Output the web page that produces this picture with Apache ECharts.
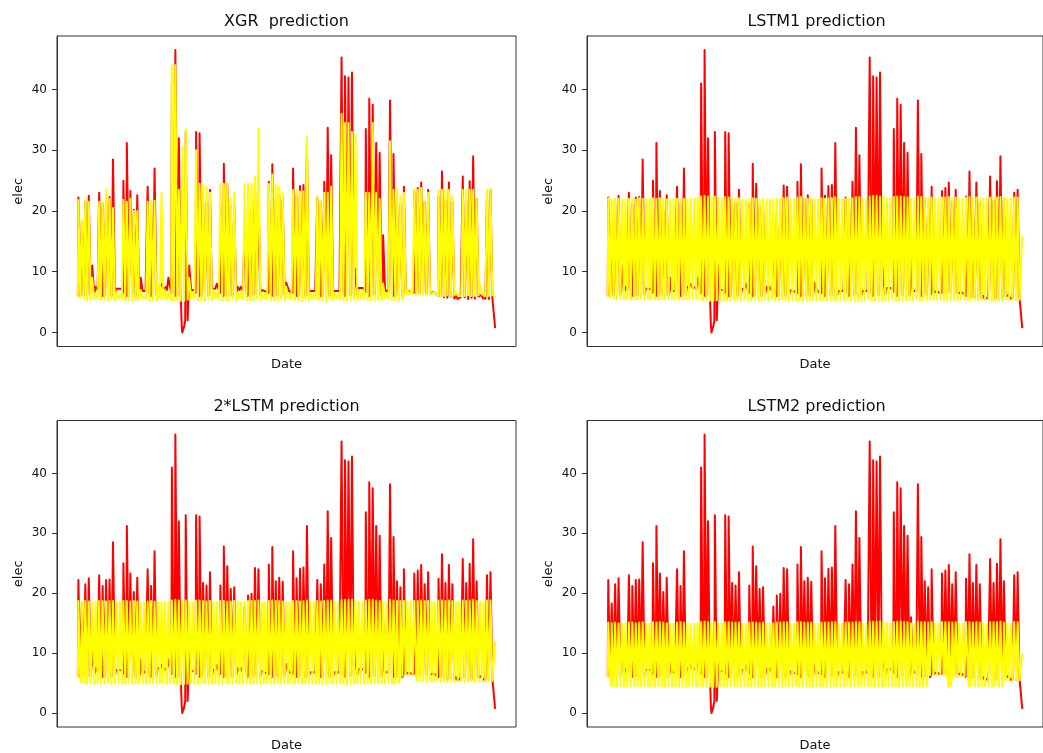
<!DOCTYPE html>
<html>
<head>
<meta charset="utf-8">
<script src="https://cdn.jsdelivr.net/npm/echarts@6/dist/echarts.min.js"></script>
<style>
html,body{margin:0;padding:0;background:#fff;overflow:hidden}
#c{width:1043px;height:753px}
</style>
</head>
<body>
<div id="c"></div>
<script>
// ---- data: one entry per day; "low" = night level, "peak" = daytime level ----
const panelTitles = ['XGR  prediction', 'LSTM1 prediction', '2*LSTM prediction', 'LSTM2 prediction'];
const yTicks = [0, 10, 20, 30, 40];

const actualLow = [
  6.0, 6.1, 6.0, 6.2, 6.5, 7.0, 6.8,
  6.0, 6.1, 6.0, 6.2, 7.2, 7.0, 6.5,
  6.0, 6.2, 6.0, 6.1, 6.8, 7.0, 6.5,
  6.0, 6.2, 7.5, 7.2, 7.0, 7.3, 6.5,
  6.0, 6.2, 1.0, 2.0, 7.0, 6.8, 6.5,
  6.0, 6.2, 6.0, 6.1, 7.2, 7.0, 6.5,
  6.0, 6.1, 6.0, 6.2, 7.0, 6.8, 6.5,
  6.0, 6.2, 6.0, 6.1, 7.0, 6.8, 6.5,
  6.0, 6.1, 6.0, 6.2, 7.3, 6.8, 6.5,
  6.0, 6.2, 6.0, 6.1, 6.8, 6.7, 6.6,
  6.0, 6.2, 6.0, 6.1, 6.8, 6.6, 6.6,
  6.0, 6.1, 6.0, 6.3, 7.3, 7.0, 6.7,
  6.0, 6.2, 6.0, 6.1, 7.2, 6.8, 6.6,
  6.0, 6.2, 6.0, 6.5, 6.6, 6.5, 6.5,
  6.5, 6.6, 6.5, 6.4, 6.5, 6.3, 6.0,
  5.8, 5.7, 5.9, 5.6, 5.5, 5.6, 5.8,
  5.5, 5.7, 5.6, 5.9, 6.0, 5.6, 5.5,
  5.7, 5.8
];
const actualPeak = [
  22.2, 18.3, 21.5, 22.5, 11.0, 7.5, 23.0,
  21.2, 22.2, 22.3, 28.5, 7.5, 7.2, 25.0,
  31.2, 23.3, 20.2, 22.6, 9.0, 6.8, 24.0,
  21.2, 27.0, 7.8, 8.0, 7.5, 9.0, 41.0,
  46.5, 32.0, 0.0, 33.0, 11.0, 7.0, 33.0,
  32.8, 21.7, 21.3, 23.5, 7.5, 8.0, 21.3,
  27.8, 24.5, 20.7, 21.0, 7.5, 7.5, 17.8,
  19.6, 19.9, 24.2, 24.0, 7.0, 6.8, 24.8,
  27.7, 22.0, 22.6, 21.9, 8.2, 6.8, 27.0,
  22.5, 24.1, 24.3, 31.2, 7.0, 6.8, 22.2,
  21.5, 24.8, 33.7, 29.2, 7.0, 6.8, 45.3,
  42.2, 42.0, 42.8, 10.5, 7.5, 7.3, 33.5,
  38.5, 37.5, 31.2, 29.6, 16.0, 7.0, 38.2,
  29.4, 22.0, 21.0, 24.0, 6.8, 6.6, 23.3,
  23.8, 24.7, 21.5, 23.5, 6.6, 6.5, 22.4,
  26.5, 21.7, 24.7, 21.5, 6.0, 5.8, 25.7,
  21.7, 24.9, 29.0, 22.0, 6.2, 5.9, 23.0,
  23.5, 0.7
];

const xgrLow = [
  5.8, 5.5, 5.3, 5.4, 5.5, 5.6, 5.4,
  5.3, 5.2, 5.4, 5.3, 5.6, 5.5, 5.3,
  5.3, 5.2, 5.3, 5.4, 5.6, 5.5, 5.2,
  5.3, 5.2, 5.6, 5.5, 5.4, 5.6, 5.2,
  5.3, 5.2, 5.2, 5.4, 5.6, 5.5, 5.3,
  5.3, 5.2, 5.4, 5.3, 5.6, 5.5, 5.2,
  5.3, 5.2, 5.4, 5.3, 5.6, 5.5, 5.3,
  5.3, 5.2, 5.4, 5.3, 5.6, 5.5, 5.3,
  5.3, 5.2, 5.4, 5.3, 5.6, 5.5, 5.3,
  5.3, 5.2, 5.4, 5.3, 5.6, 5.5, 5.3,
  5.3, 5.2, 5.4, 5.3, 5.6, 5.5, 5.3,
  5.3, 5.2, 5.4, 5.3, 5.6, 5.5, 5.3,
  5.3, 5.2, 5.4, 5.3, 5.6, 5.5, 5.3,
  5.3, 5.2, 5.4, 6.2, 6.3, 6.3, 6.2,
  6.3, 6.2, 6.3, 6.2, 6.3, 6.3, 6.0,
  6.0, 6.1, 6.0, 6.1, 6.2, 6.0, 6.0,
  6.1, 6.0, 6.0, 6.1, 6.2, 6.0, 6.0,
  6.1, 6.0
];
const xgrPeak = [
  21.8, 18.5, 21.8, 21.5, 9.0, 6.5, 21.5,
  21.5, 23.6, 22.0, 20.5, 6.5, 6.3, 21.8,
  21.5, 22.0, 20.0, 20.0, 7.0, 6.0, 21.5,
  21.7, 21.7, 8.0, 23.0, 7.0, 6.5, 44.0,
  44.0, 23.5, 30.5, 33.5, 9.0, 6.5, 30.0,
  24.5, 24.3, 24.0, 23.0, 7.0, 6.5, 24.5,
  24.5, 24.5, 22.0, 23.0, 6.5, 6.5, 24.5,
  24.5, 24.5, 25.7, 33.5, 6.5, 6.5, 24.5,
  26.0, 24.3, 24.0, 23.0, 7.5, 6.3, 23.5,
  23.5, 23.2, 23.2, 32.2, 6.5, 6.3, 22.5,
  21.5, 23.0, 23.0, 24.0, 6.5, 6.3, 36.0,
  34.5, 34.5, 33.0, 32.5, 7.0, 6.8, 23.0,
  23.0, 34.5, 23.0, 22.0, 8.0, 6.5, 31.5,
  23.5, 23.7, 22.5, 23.0, 7.0, 6.8, 23.5,
  23.5, 23.8, 21.5, 23.0, 6.5, 6.5, 23.5,
  23.5, 23.5, 23.5, 22.5, 6.5, 6.3, 23.5,
  23.5, 23.5, 23.5, 22.0, 8.0, 6.5, 23.5,
  23.7, 6.0
];

const lstm1Low = [
  5.8, 5.5, 5.4, 5.5, 5.4, 5.5, 5.4,
  5.5, 5.4, 5.5, 5.4, 5.5, 5.5, 5.4,
  5.4, 5.5, 5.4, 5.5, 5.5, 5.4, 5.4,
  5.5, 5.4, 5.5, 5.4, 5.5, 5.4, 5.3,
  5.3, 5.2, 5.2, 5.3, 5.3, 5.3, 5.2,
  5.3, 5.3, 5.4, 5.3, 5.4, 5.3, 5.3,
  5.4, 5.3, 5.3, 5.4, 5.3, 5.4, 5.3,
  5.3, 5.4, 5.3, 5.2, 5.3, 5.3, 5.2,
  5.2, 5.3, 5.3, 5.3, 5.3, 5.3, 5.3,
  5.3, 5.3, 5.3, 5.2, 5.3, 5.3, 5.3,
  5.3, 5.3, 5.2, 5.2, 5.3, 5.4, 5.2,
  5.2, 5.2, 5.2, 5.3, 5.3, 5.4, 5.3,
  5.2, 5.2, 5.3, 5.3, 5.3, 5.4, 5.3,
  5.3, 5.3, 5.4, 5.3, 5.4, 5.4, 5.3,
  5.3, 5.3, 5.4, 5.3, 5.4, 5.4, 5.3,
  5.3, 5.4, 5.3, 5.4, 5.4, 5.4, 5.3,
  5.3, 5.3, 5.3, 5.4, 5.4, 5.4, 5.3,
  5.4, 5.5
];
const lstm1Peak = [
  22.1, 21.9, 22.0, 22.0, 21.8, 21.9, 22.0,
  22.0, 21.9, 22.1, 22.0, 21.9, 22.0, 22.1,
  22.0, 22.1, 22.0, 21.9, 21.9, 22.0, 22.0,
  22.1, 22.0, 21.9, 22.0, 22.0, 22.2, 22.4,
  22.5, 22.4, 22.3, 22.4, 22.2, 22.0, 22.3,
  22.2, 22.0, 22.0, 22.1, 21.9, 21.9, 22.0,
  22.1, 22.0, 21.9, 22.0, 21.9, 21.9, 21.9,
  22.0, 22.0, 22.1, 22.2, 21.9, 21.9, 22.2,
  22.3, 22.1, 22.0, 22.0, 21.9, 21.9, 22.1,
  22.0, 22.1, 22.1, 22.3, 22.0, 21.9, 22.0,
  22.0, 22.1, 22.3, 22.3, 22.0, 21.9, 22.4,
  22.5, 22.5, 22.4, 22.3, 22.0, 22.0, 22.3,
  22.4, 22.4, 22.3, 22.2, 22.0, 22.0, 22.4,
  22.3, 22.2, 22.1, 22.2, 22.0, 22.0, 22.2,
  22.2, 22.3, 22.1, 22.2, 22.0, 22.0, 22.2,
  22.3, 22.2, 22.2, 22.1, 22.0, 22.0, 22.2,
  22.2, 22.2, 22.3, 22.2, 22.0, 22.0, 22.2,
  22.2, 16.0
];

const lstm2xLow = [
  5.8, 5.0, 4.9, 5.0, 4.9, 5.0, 4.9,
  4.9, 5.0, 4.9, 4.9, 5.0, 4.9, 4.9,
  5.0, 4.9, 4.9, 5.0, 4.9, 4.9, 5.0,
  4.9, 4.9, 5.0, 4.9, 4.9, 5.0, 4.9,
  4.8, 4.8, 4.9, 4.9, 5.0, 4.9, 4.9,
  4.9, 5.0, 4.9, 4.9, 5.0, 4.9, 4.9,
  5.0, 4.9, 4.9, 5.0, 4.9, 4.9, 5.0,
  4.9, 4.9, 5.0, 4.9, 4.9, 5.0, 4.9,
  4.9, 5.0, 4.9, 4.9, 5.0, 4.9, 4.9,
  5.0, 4.9, 4.9, 5.0, 4.9, 4.9, 5.0,
  4.9, 4.9, 5.0, 4.9, 4.9, 5.0, 4.9,
  4.8, 4.9, 4.9, 5.0, 4.9, 4.9, 5.0,
  4.9, 4.9, 5.0, 4.9, 4.9, 5.0, 4.9,
  4.9, 5.0, 6.2, 6.3, 6.3, 6.3, 6.2,
  5.3, 5.3, 5.2, 5.3, 5.2, 5.3, 5.2,
  5.3, 5.2, 5.3, 5.2, 5.3, 5.3, 5.2,
  5.3, 5.3, 5.2, 5.3, 5.3, 5.2, 5.4,
  5.4, 5.6
];
const lstm2xPeak = [
  18.7, 18.6, 18.7, 18.6, 18.5, 18.6, 18.7,
  18.7, 18.6, 18.7, 18.7, 18.5, 18.6, 18.7,
  18.7, 18.6, 18.7, 18.6, 18.5, 18.5, 18.6,
  18.7, 18.6, 18.5, 18.5, 18.5, 18.6, 18.8,
  18.9, 18.8, 18.8, 18.8, 18.6, 18.5, 18.8,
  18.8, 18.7, 18.6, 18.7, 18.5, 18.5, 18.7,
  18.7, 18.6, 18.6, 18.7, 18.5, 18.5, 18.6,
  18.7, 18.7, 18.7, 18.8, 18.5, 18.5, 18.7,
  18.8, 18.7, 18.7, 18.6, 18.5, 18.5, 18.7,
  18.7, 18.6, 18.7, 18.8, 18.5, 18.5, 18.7,
  18.6, 18.7, 18.8, 18.8, 18.5, 18.5, 18.9,
  18.9, 18.9, 18.9, 18.8, 18.6, 18.5, 18.8,
  18.9, 18.9, 18.8, 18.7, 18.6, 18.5, 18.9,
  18.8, 18.7, 18.7, 18.7, 18.6, 18.6, 18.7,
  18.7, 18.8, 18.7, 18.7, 18.6, 18.5, 18.8,
  18.8, 18.7, 18.8, 18.7, 18.6, 18.5, 18.8,
  18.7, 18.8, 18.9, 18.7, 18.6, 18.5, 18.8,
  18.8, 12.0
];

const lstm2Low = [
  6.0, 4.5, 4.4, 4.5, 4.4, 4.5, 4.4,
  4.4, 4.5, 4.4, 4.4, 4.5, 4.4, 4.4,
  4.5, 4.4, 4.4, 4.5, 4.4, 4.4, 4.5,
  4.4, 4.4, 4.5, 4.4, 4.4, 4.5, 4.4,
  4.4, 4.4, 4.4, 4.4, 4.5, 4.4, 4.4,
  4.4, 4.5, 4.4, 4.4, 4.5, 4.4, 4.4,
  4.5, 4.4, 4.4, 4.5, 4.4, 4.4, 4.5,
  4.4, 4.4, 4.5, 4.4, 4.4, 4.5, 4.4,
  4.4, 4.5, 4.4, 4.4, 4.5, 4.4, 4.4,
  4.5, 4.4, 4.4, 4.5, 4.4, 4.4, 4.5,
  4.4, 4.4, 4.5, 4.4, 4.4, 4.5, 4.4,
  4.4, 4.4, 4.4, 4.5, 4.4, 4.4, 4.5,
  4.4, 4.4, 4.5, 4.4, 4.4, 4.5, 4.4,
  4.4, 4.5, 6.3, 6.3, 6.3, 6.3, 6.3,
  6.3, 4.5, 6.0, 6.0, 6.1, 6.0, 6.0,
  4.5, 4.4, 4.5, 4.4, 4.5, 4.5, 4.4,
  4.5, 4.4, 4.5, 5.5, 5.5, 5.4, 5.5,
  5.5, 5.6
];
const lstm2Peak = [
  15.1, 15.0, 15.1, 15.0, 14.9, 15.0, 15.1,
  15.1, 15.0, 15.1, 15.2, 14.9, 15.0, 15.2,
  15.1, 15.2, 15.1, 15.0, 14.9, 14.9, 15.1,
  15.2, 15.1, 14.9, 14.9, 14.9, 15.0, 15.2,
  15.3, 15.2, 15.2, 15.2, 15.0, 14.9, 15.2,
  15.2, 15.1, 15.1, 15.1, 14.9, 14.9, 15.1,
  15.1, 15.1, 15.0, 15.1, 14.9, 14.9, 15.0,
  15.1, 15.1, 15.2, 15.2, 14.9, 14.9, 15.2,
  15.2, 15.1, 15.1, 15.1, 14.9, 14.9, 15.1,
  15.1, 15.1, 15.2, 15.2, 14.9, 14.9, 15.1,
  15.1, 15.1, 15.2, 15.2, 14.9, 14.9, 15.3,
  15.3, 15.3, 15.3, 15.2, 15.0, 14.9, 15.2,
  15.3, 15.3, 15.2, 15.2, 15.0, 14.9, 15.3,
  15.2, 15.2, 15.1, 15.2, 15.0, 15.0, 15.2,
  15.2, 15.2, 15.1, 15.2, 15.0, 14.9, 15.2,
  15.2, 15.1, 15.2, 15.1, 15.0, 14.9, 15.2,
  15.2, 15.2, 15.3, 15.1, 15.0, 14.9, 15.2,
  15.2, 10.0
];

// ---- build ----
const predLows = [xgrLow, lstm1Low, lstm2xLow, lstm2Low];
const predPeaks = [xgrPeak, lstm1Peak, lstm2xPeak, lstm2Peak];
// each day: night level, steep rise, daytime plateau, steep fall; the last entry ends the series
function dayShape(low, peak) {
  const pts = [];
  const n = low.length;
  for (let d = 0; d < n; d++) {
    if (d === n - 1) {
      pts.push([d, low[d]]);
      pts.push([d + 0.5, peak[d]]);
    } else {
      pts.push([d, low[d]]);
      pts.push([d + 0.15, peak[d]]);
      pts.push([d + 0.55, peak[d]]);
      pts.push([d + 0.7, low[d]]);
    }
  }
  return pts;
}
const actualPts = dayShape(actualLow, actualPeak);
const allVals = actualLow.concat(actualPeak);
const vMin = Math.min(...allVals), vMax = Math.max(...allVals);
const yPad = (vMax - vMin) * 0.05;
const xLast = actualLow.length - 0.5;
const xPad = xLast * 0.05;

const FONT = 'DejaVu Sans';
const boxes = [
  { left: 57, top: 36 }, { left: 587, top: 36 },
  { left: 57, top: 420.5 }, { left: 587, top: 420.5 }
];
const GW = 459, GH = 310.5;

const option = {
  animation: false,
  backgroundColor: '#ffffff',
  title: panelTitles.map((t, i) => ({
    text: t,
    left: boxes[i].left + GW / 2,
    top: boxes[i].top - 22,
    textAlign: 'center',
    padding: 0,
    textStyle: { fontFamily: FONT, fontSize: 16, fontWeight: 'normal', color: '#111' }
  })),
  grid: boxes.map(b => ({
    left: b.left, top: b.top, width: GW, height: GH,
    show: true, borderColor: '#333', borderWidth: 1, backgroundColor: 'transparent'
  })),
  xAxis: boxes.map((b, i) => ({
    type: 'value', gridIndex: i, min: -xPad, max: xLast + xPad,
    axisLine: { show: false, onZero: false }, axisTick: { show: false }, axisLabel: { show: false },
    splitLine: { show: false },
    name: 'Date', nameLocation: 'middle', nameGap: 12,
    nameTextStyle: { fontFamily: FONT, fontSize: 13, color: '#111', verticalAlign: 'top' }
  })),
  yAxis: boxes.map((b, i) => ({
    type: 'value', gridIndex: i, min: vMin - yPad, max: vMax + yPad,
    axisLine: { show: true, onZero: false, lineStyle: { color: '#333', width: 1 } },
    axisTick: { show: true, length: 5, customValues: yTicks, lineStyle: { color: '#333', width: 1 } },
    axisLabel: { customValues: yTicks, fontFamily: FONT, fontSize: 12, color: '#111', margin: 10 },
    splitLine: { show: false },
    name: 'elec', nameLocation: 'middle', nameGap: 32, nameRotate: 90,
    nameTextStyle: { fontFamily: FONT, fontSize: 13, color: '#111' }
  })),
  series: []
};
for (let i = 0; i < 4; i++) {
  option.series.push({
    type: 'line', xAxisIndex: i, yAxisIndex: i, data: actualPts,
    showSymbol: false, silent: true, z: 2,
    lineStyle: { color: '#ff0000', width: 2, join: 'round' }, itemStyle: { color: '#ff0000' }
  });
  option.series.push({
    type: 'line', xAxisIndex: i, yAxisIndex: i, data: dayShape(predLows[i], predPeaks[i]),
    showSymbol: false, silent: true, z: 3,
    lineStyle: { color: '#ffff00', width: 2, join: 'round' }, itemStyle: { color: '#ffff00' }
  });
}
const chart = echarts.init(document.getElementById('c'), null, { renderer: 'canvas' });
chart.setOption(option);
</script>
</body>
</html>
